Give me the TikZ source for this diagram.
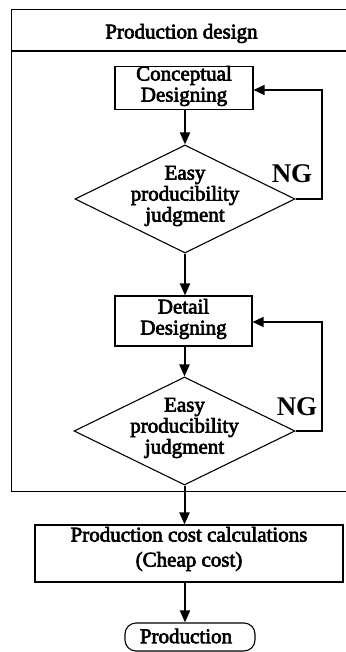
\documentclass[tikz,border=0pt]{standalone}
\usepackage{fontspec}
\setmainfont{Liberation Serif}
\newfontfamily\heavy{Liberation Serif}[FakeBold=3]
\usetikzlibrary{shapes.geometric,arrows.meta}

\tikzset{
  txt/.style={font=\heavy\fontsize{21}{21}\selectfont, align=center, inner sep=0pt},
  stepbox/.style={draw, line width=1.1pt, rectangle, inner sep=0pt},
  decision/.style={draw, line width=1.1pt, diamond, inner sep=0pt},
  flow/.style={line width=2pt, -{Triangle[length=12pt,width=10pt]}},
  loopback/.style={line width=1.2pt, -{Triangle[length=11pt,width=10pt]}},
  nglabel/.style={font=\bfseries\fontsize{27}{27}\selectfont, inner sep=0pt},
}

\begin{document}
\begin{tikzpicture}[x=1pt,y=-1pt]
\useasboundingbox (0,0) rectangle (345,652);

% outer frame with its header (right side runs off the page)
\node[draw, line width=1pt, minimum width=337pt, minimum height=481pt, inner sep=0pt] (frame) at (179.5,250.5) {};
\draw[line width=2pt] ([yshift=-42pt]frame.north west) -- ([yshift=-42pt]frame.north east);
\node[txt, anchor=base] (head) at (181.5,38.5) {Production design};

% steps
\node[stepbox, minimum width=138pt, minimum height=43pt] (concept) at (184,88) {};
\node[txt] (conceptt) at (184,86) {Conceptual\\Designing};

\node[decision, minimum width=220pt, minimum height=108pt] (d1) at (185,199) {};
\node[txt] (d1t) at (185,196) {Easy\\producibility\\judgment};

\node[stepbox, minimum width=137pt, minimum height=50pt] (detail) at (183.5,321) {};
\node[txt] (detailt) at (183.5,319) {Detail\\Designing};

\node[decision, minimum width=221pt, minimum height=108pt] (d2) at (184.5,431) {};
\node[txt] (d2t) at (184.5,428) {Easy\\producibility\\judgment};

\node[stepbox, minimum width=308pt, minimum height=57pt] (cost) at (189,553.5) {};
\node[txt, font=\heavy\fontsize{21}{25}\selectfont] (costt) at (189,549) {Production cost calculations\\(Cheap cost)};

\node[draw, line width=1.1pt, rectangle, rounded corners=11pt, minimum width=130pt, minimum height=28pt, inner sep=0pt] (prod) at (190,637) {};
\node[txt] (prodt) at (186,636) {Production};

% NG labels
\node[nglabel] (ng1) at (292,174) {NG};
\node[nglabel] (ng2) at (297,407) {NG};

% main flow
\coordinate (c1) at (185,0);
\draw[flow] (concept.south -| d1.north) -- (d1.north);
\draw[flow] (d1.south) -- (d1.south |- detail.north);
\draw[flow] (detail.south -| d2.north) -- (d2.north);
\draw[flow] (d2.south) -- (d2.south |- cost.north);
\draw[flow] (c1 |- cost.south) -- (c1 |- prod.north);

% rework loops
\coordinate (r1) at (322,90);
\coordinate (r2) at (322,322);
\draw[loopback] (d1.east) -| (r1) -- (r1 -| concept.east);
\draw[loopback] (d2.east) -| (r2) -- (r2 -| detail.east);
\end{tikzpicture}
\end{document}
